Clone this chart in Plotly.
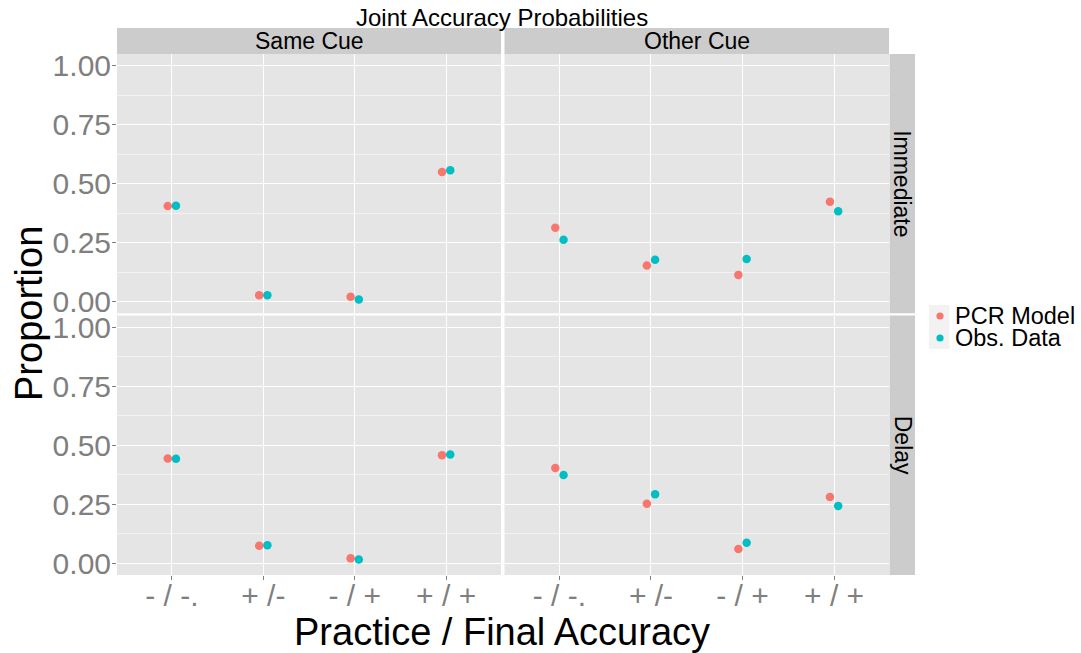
import numpy as np
import plotly.graph_objects as go

W, H = 1081, 653

categories = ["- / -.", "+ /-", "- / +", "+ / +"]
series_names = ["PCR Model", "Obs. Data"]
colors = ["#F8766D", "#00BFC4"]
cue_labels = ["Same Cue", "Other Cue"]
time_labels = ["Immediate", "Delay"]

same_immediate_model = [0.405, 0.027, 0.020, 0.549]
same_immediate_obs = [0.406, 0.027, 0.009, 0.557]
other_immediate_model = [0.313, 0.153, 0.113, 0.423]
other_immediate_obs = [0.262, 0.177, 0.180, 0.383]
same_delay_model = [0.444, 0.074, 0.021, 0.458]
same_delay_obs = [0.443, 0.076, 0.016, 0.461]
other_delay_model = [0.404, 0.252, 0.060, 0.281]
other_delay_obs = [0.374, 0.292, 0.087, 0.243]

y_ticks = [0, 0.25, 0.5, 0.75, 1.0]
y_ticktext = ["0.00", "0.25", "0.50", "0.75", "1.00"]

panels = {
    (0, 0): [same_immediate_model, same_immediate_obs],
    (0, 1): [other_immediate_model, other_immediate_obs],
    (1, 0): [same_delay_model, same_delay_obs],
    (1, 1): [other_delay_model, other_delay_obs],
}

FONT = "Liberation Sans, Arial, Helvetica, sans-serif"
GREY50 = "#7F7F7F"

def px_x(p):
    return p / W

def px_y(p):
    return 1 - p / H

col_dom = [[px_x(117), px_x(501)], [px_x(504.5), px_x(889)]]
row_dom = [[px_y(313.3), px_y(54)], [px_y(575), px_y(315.5)]]

fig = go.Figure()
dodge = [-0.045, 0.045]
xpos = np.arange(1, len(categories) + 1)

layout = dict(
    width=W, height=H,
    margin=dict(l=0, r=0, t=0, b=0, autoexpand=False),
    paper_bgcolor="white",
    plot_bgcolor="#E5E5E5",
    font=dict(family=FONT, color="black"),
    showlegend=False,
)

idx = 0
for r in range(2):
    for c in range(2):
        idx += 1
        xa = "xaxis" if idx == 1 else f"xaxis{idx}"
        ya = "yaxis" if idx == 1 else f"yaxis{idx}"
        xs = "x" if idx == 1 else f"x{idx}"
        ys = "y" if idx == 1 else f"y{idx}"
        layout[xa] = dict(
            domain=col_dom[c], anchor=ys, range=[0.4, 4.6],
            tickmode="array", tickvals=list(xpos), ticktext=categories,
            showticklabels=(r == 1), ticks="outside" if r == 1 else "",
            ticklen=4, tickcolor=GREY50, tickwidth=1,
            ticklabelstandoff=-10,
            tickfont=dict(size=30, color=GREY50, family=FONT),
            showgrid=True, gridcolor="white", gridwidth=1.1,
            zeroline=False, showline=False, automargin=False,
        )
        layout[ya] = dict(
            domain=row_dom[r], anchor=xs, range=[-0.05, 1.05],
            tickmode="array", tickvals=y_ticks, ticktext=y_ticktext,
            showticklabels=(c == 0), ticks="outside" if c == 0 else "",
            ticklen=4, tickcolor=GREY50, tickwidth=1,
            ticklabelstandoff=-5,
            tickfont=dict(size=30, color=GREY50, family=FONT),
            showgrid=True, gridcolor="white", gridwidth=1.1,
            minor=dict(tickvals=[0.125, 0.375, 0.625, 0.875], showgrid=True,
                       gridcolor="#F2F2F2", gridwidth=0.6, ticks=""),
            zeroline=False, showline=False, automargin=False,
        )
        for s in range(2):
            fig.add_trace(go.Scatter(
                x=xpos + dodge[s], y=panels[(r, c)][s], mode="markers",
                marker=dict(size=8.5, color=colors[s], line=dict(width=0)),
                name=series_names[s], showlegend=False, xaxis=xs, yaxis=ys,
            ))

fig.update_layout(**layout)

shapes = []
annotations = []
STRIP = "#CCCCCC"
for c in range(2):
    shapes.append(dict(type="rect", xref="paper", yref="paper",
                       x0=col_dom[c][0], x1=col_dom[c][1], y0=px_y(54), y1=px_y(28),
                       fillcolor=STRIP, line=dict(width=0), layer="below"))
    annotations.append(dict(text=cue_labels[c], xref="paper", yref="paper",
                            x=(col_dom[c][0] + col_dom[c][1]) / 2, y=px_y(41),
                            xanchor="center", yanchor="middle", showarrow=False,
                            font=dict(size=23, color="black", family=FONT)))
for r in range(2):
    shapes.append(dict(type="rect", xref="paper", yref="paper",
                       x0=px_x(889.5), x1=px_x(915), y0=row_dom[r][0], y1=row_dom[r][1],
                       fillcolor=STRIP, line=dict(width=0), layer="below"))
    annotations.append(dict(text=time_labels[r], xref="paper", yref="paper",
                            x=px_x(902.5), y=(row_dom[r][0] + row_dom[r][1]) / 2,
                            xanchor="center", yanchor="middle", showarrow=False,
                            textangle=90,
                            font=dict(size=23, color="black", family=FONT)))

# legend (drawn as decoration: key boxes, dots, labels)
for s in range(2):
    top = 305 + 22 * s
    shapes.append(dict(type="rect", xref="paper", yref="paper",
                       x0=px_x(929), x1=px_x(949.5), y0=px_y(top + 22), y1=px_y(top),
                       fillcolor="#F2F2F2", line=dict(width=0)))
    cy = top + 11
    shapes.append(dict(type="circle", xref="paper", yref="paper",
                       x0=px_x(940 - 3.6), x1=px_x(940 + 3.6),
                       y0=px_y(cy + 3.6), y1=px_y(cy - 3.6),
                       fillcolor=colors[s], line=dict(width=0)))
    annotations.append(dict(text=series_names[s], xref="paper", yref="paper",
                            x=px_x(953), y=px_y(cy), xanchor="left", yanchor="middle",
                            showarrow=False,
                            font=dict(size=23.5, color="black", family=FONT)))

annotations.append(dict(text="Joint Accuracy Probabilities", xref="paper", yref="paper",
                        x=px_x(502), y=px_y(17), xanchor="center", yanchor="middle",
                        showarrow=False, font=dict(size=24, color="black", family=FONT)))
annotations.append(dict(text="Proportion", xref="paper", yref="paper",
                        x=px_x(29), y=px_y(314), xanchor="center", yanchor="middle",
                        textangle=-90, showarrow=False,
                        font=dict(size=38, color="black", family=FONT)))
annotations.append(dict(text="Practice / Final Accuracy", xref="paper", yref="paper",
                        x=px_x(502), y=px_y(632), xanchor="center", yanchor="middle",
                        showarrow=False, font=dict(size=38, color="black", family=FONT)))

fig.update_layout(shapes=shapes, annotations=annotations)
fig.write_html("out.html")
